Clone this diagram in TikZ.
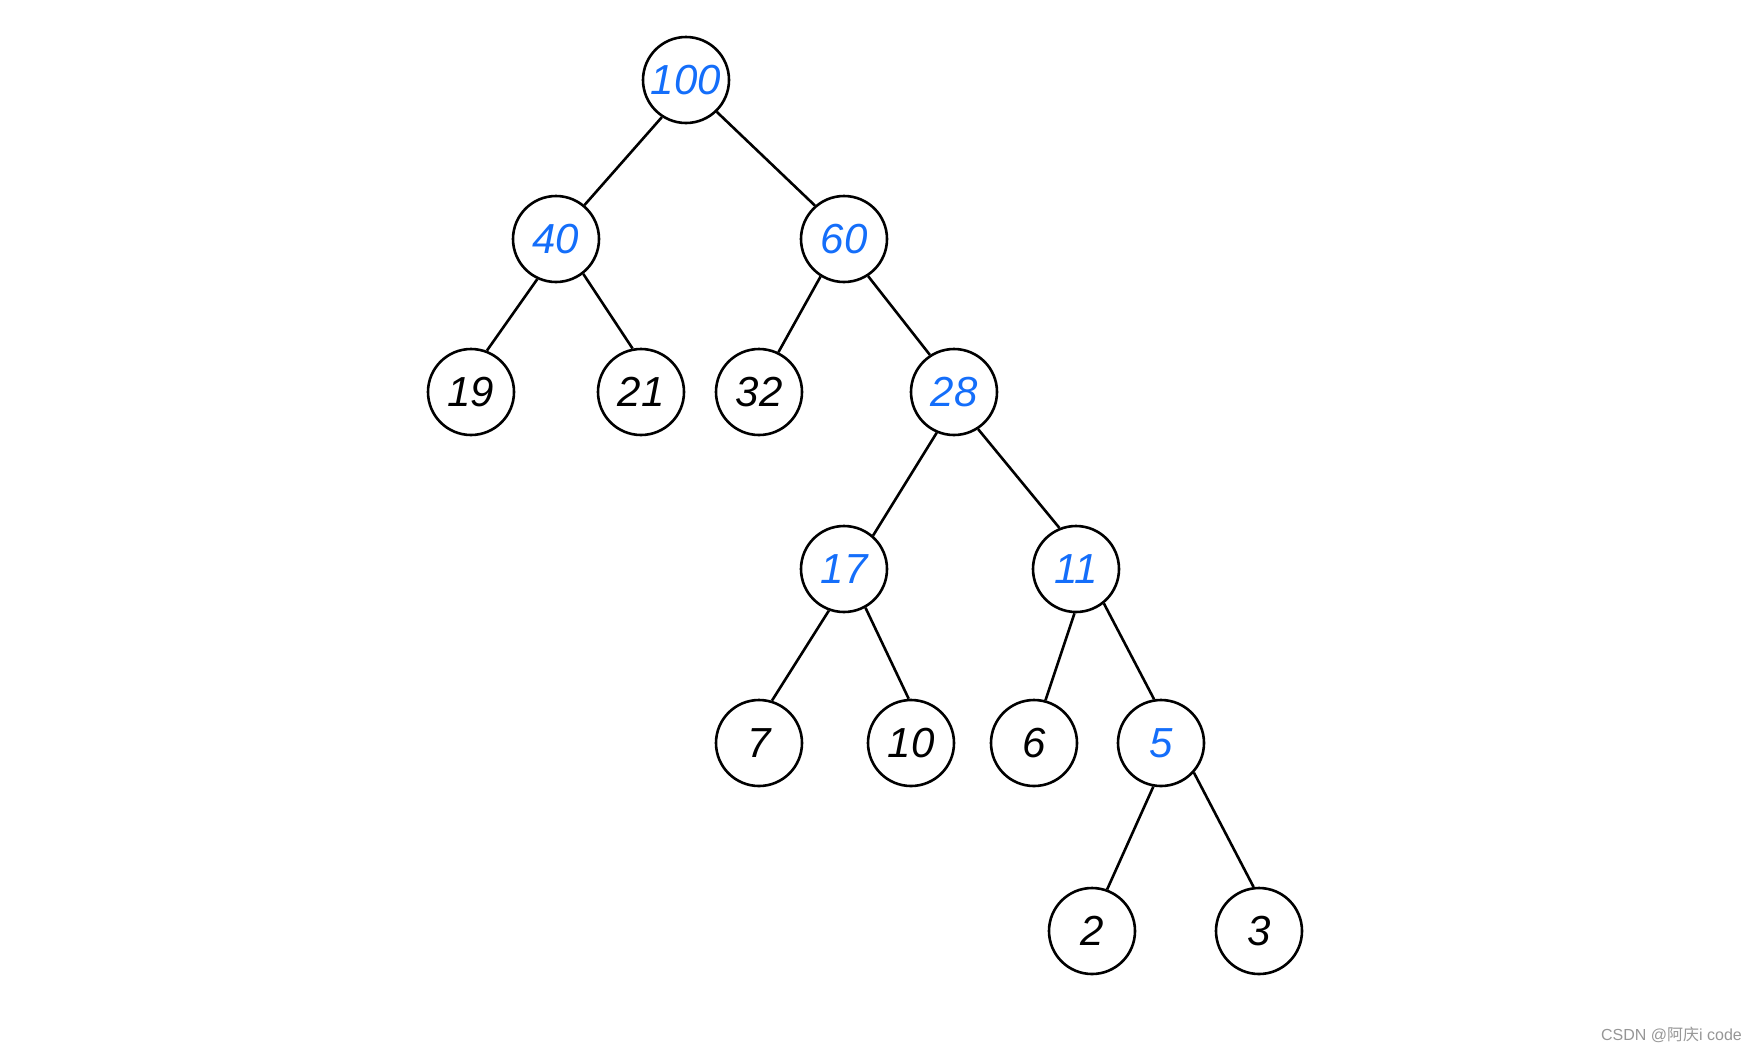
\documentclass[tikz,border=0pt]{standalone}
\usepackage{fontspec}
\setmainfont{Liberation Sans}
\newfontfamily\cjkfont{Noto Sans CJK SC}
\definecolor{hblue}{RGB}{20,110,250}
\definecolor{wmgrey}{RGB}{150,150,150}
\begin{document}
\begin{tikzpicture}[x=1pt,y=-1pt,
  tn/.style={circle,draw=black,line width=2.6pt,minimum size=86pt,inner sep=0pt,font=\fontsize{42}{46}\selectfont\itshape},
  bn/.style={tn,text=hblue},
  kn/.style={tn,text=black},
  edge/.style={line width=2.6pt}]
\useasboundingbox (0,0) rectangle (1757,1053);
\node[bn] (n100) at (686,80) {100};
\node[bn] (n40) at (556,239) {40};
\node[bn] (n60) at (844,239) {60};
\node[kn] (n19) at (471,392) {19};
\node[kn] (n21) at (641,392) {21};
\node[kn] (n32) at (759,392) {32};
\node[bn] (n28) at (954,392) {28};
\node[bn] (n17) at (844,569) {17};
\node[bn] (n11) at (1076,569) {11};
\node[kn] (n7) at (759,743) {7};
\node[kn] (n10) at (911,743) {10};
\node[kn] (n6) at (1034,743) {6};
\node[bn] (n5) at (1161,743) {5};
\node[kn] (n2) at (1092,931) {2};
\node[kn] (n3) at (1259,931) {3};
\draw[edge] (n100.237) -- (n40.50);
\draw[edge] (n100.314) -- (n60.131);
\draw[edge] (n40.245) -- (n19.69);
\draw[edge] (n40.308) -- (n21.101);
\draw[edge] (n60.238) -- (n32.64);
\draw[edge] (n60.303) -- (n28.123);
\draw[edge] (n28.247) -- (n17.49);
\draw[edge] (n28.303) -- (n11.112);
\draw[edge] (n17.250) -- (n7.73);
\draw[edge] (n17.299) -- (n10.93);
\draw[edge] (n11.268) -- (n6.75);
\draw[edge] (n11.309) -- (n5.99);
\draw[edge] (n5.260) -- (n2.70);
\draw[edge] (n5.318) -- (n3.97);
\node[anchor=east,text=wmgrey,font=\fontsize{16}{18}\selectfont,inner sep=0pt] (wm) at (1742,1035) {CSDN @{\cjkfont 阿庆}i code};
\end{tikzpicture}
\end{document}
